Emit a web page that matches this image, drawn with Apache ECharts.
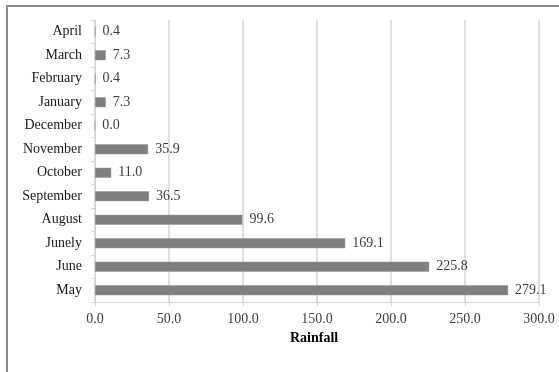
<!DOCTYPE html>
<html>
<head>
<meta charset="utf-8">
<script src="https://cdn.jsdelivr.net/npm/echarts@6/dist/echarts.min.js"></script>
<style>
  html, body { margin: 0; padding: 0; background: #fff; }
  #chart { width: 559px; height: 372px; }
</style>
</head>
<body>
<div id="chart"></div>
<script>
// Monthly rainfall, listed bottom-to-top on the category axis
const months = ['May', 'June', 'Junely', 'August', 'September', 'October',
                'November', 'December', 'January', 'February', 'March', 'April'];
const rainfall = [279.1, 225.8, 169.1, 99.6, 36.5, 11.0, 35.9, 0.0, 7.3, 0.4, 7.3, 0.4];
const axisTitle = 'Rainfall';
const xMin = 0, xMax = 300, xStep = 50;

const serif = '"Liberation Serif", "DejaVu Serif", serif';
const chart = echarts.init(document.getElementById('chart'));

chart.setOption({
  animation: false,
  backgroundColor: '#ffffff',
  grid: { left: 95, right: 20, top: 20, bottom: 70, containLabel: false },
  graphic: [{
    type: 'rect',
    shape: { x: 7, y: 6, width: 620, height: 420 },
    style: { fill: 'none', stroke: '#8a8a8a', lineWidth: 2 },
    silent: true,
    z: -1
  }, {
    type: 'text',
    left: 290,
    top: 331,
    style: { text: axisTitle, font: 'bold 14px ' + serif, fill: '#000' }
  }],
  xAxis: {
    type: 'value',
    min: xMin, max: xMax, interval: xStep,
    axisLine: { show: true, lineStyle: { color: '#d4d4d4', width: 1 } },
    axisTick: { show: true, length: 4, lineStyle: { color: '#d4d4d4' } },
    splitLine: { show: true, lineStyle: { color: '#d4d4d4', width: 1.5 } },
    axisLabel: {
      margin: 10,
      color: '#404040',
      fontFamily: serif,
      fontSize: 14,
      formatter: v => v.toFixed(1)
    }
  },
  yAxis: {
    type: 'category',
    data: months,
    axisLine: { show: true, lineStyle: { color: '#d4d4d4', width: 1 } },
    axisTick: { show: true, length: 4, lineStyle: { color: '#d4d4d4' } },
    axisLabel: {
      margin: 13,
      color: '#1a1a1a',
      fontFamily: serif,
      fontSize: 14
    }
  },
  series: [{
    type: 'bar',
    data: rainfall,
    barWidth: 10,
    itemStyle: { color: '#7f7f7f', borderColor: '#9a9a9a', borderWidth: 0.5 },
    label: {
      show: true,
      position: 'right',
      distance: 7,
      color: '#404040',
      fontFamily: serif,
      fontSize: 14,
      formatter: p => p.value.toFixed(1)
    }
  }]
});
</script>
</body>
</html>
